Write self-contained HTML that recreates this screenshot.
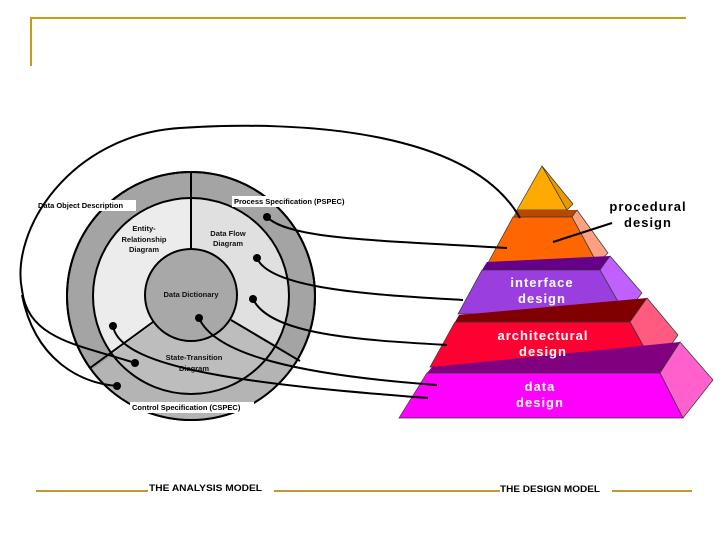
<!DOCTYPE html>
<html><head><meta charset="utf-8"><style>
html,body{margin:0;padding:0;background:#fff;}
svg{display:block;font-family:"Liberation Sans",Arial,sans-serif;}
</style></head><body>
<svg width="728" height="546" viewBox="0 0 728 546" xmlns="http://www.w3.org/2000/svg">
<!-- header -->
<line x1="30" y1="18" x2="686" y2="18" stroke="#c89b14" stroke-width="2"/>
<line x1="31" y1="17" x2="31" y2="66" stroke="#c89b14" stroke-width="2"/>

<!-- analysis model circle -->
<g stroke="#000" stroke-width="2">
  <circle cx="191" cy="296" r="124" fill="#a4a4a4"/>
  <!-- bottom sector of outer ring slightly lighter -->
  <path d="M191,296 L298,358 A124,124 0 0 1 92,370 Z" fill="#b4b4b4" stroke="none"/>
  <circle cx="191" cy="296" r="124" fill="none"/>
  <!-- middle sectors -->
  <path d="M191,296 L191,198 A98,98 0 0 0 112,354 Z" fill="#ececec" stroke="none"/>
  <path d="M191,296 L191,198 A98,98 0 0 1 276,345 Z" fill="#e0e0e0" stroke="none"/>
  <path d="M191,296 L276,345 A98,98 0 0 1 112,354 Z" fill="#bdbdbd" stroke="none"/>
  <circle cx="191" cy="296" r="98" fill="none"/>
  <line x1="191" y1="172" x2="191" y2="250"/>
  <line x1="153" y1="322" x2="90" y2="368"/>
  <line x1="231" y1="320" x2="300" y2="361"/>
  <circle cx="191" cy="295" r="46" fill="#a8a8a8"/>
</g>
<g font-size="7.5" font-weight="bold" text-anchor="middle" fill="#111">
  <text x="144" y="231">Entity-</text>
  <text x="144" y="242">Relationship</text>
  <text x="144" y="252">Diagram</text>
  <text x="228" y="236">Data Flow</text>
  <text x="228" y="246">Diagram</text>
  <text x="191" y="297">Data Dictionary</text>
  <text x="194" y="360">State-Transition</text>
  <text x="194" y="371">Diagram</text>
</g>
<rect x="36" y="200" width="100" height="11" fill="#fff"/>
<text x="38" y="208" font-size="7.5" font-weight="bold">Data Object Description</text>
<rect x="232" y="196" width="128" height="11" fill="#fff"/>
<text x="234" y="204" font-size="7.5" font-weight="bold">Process Specification (PSPEC)</text>
<rect x="130" y="402" width="124" height="11" fill="#fff"/>
<text x="132" y="410" font-size="7.5" font-weight="bold">Control Specification (CSPEC)</text>

<!-- pyramid -->
<!-- top cap -->
<polygon points="542,166 567,210 517,210" fill="#ffaa00" stroke="#333" stroke-width="0.7"/>
<polygon points="542,166 573,204 567,210" fill="#e89a00" stroke="#333" stroke-width="0.7"/>
<!-- procedural -->
<polygon points="517,210 577,210 572,217 513,217" fill="#b84800"/>
<polygon points="577,210 608,253 597,263 572,217" fill="#ffa080" stroke="#333" stroke-width="0.7"/>
<polygon points="513,217 572,217 597,263 488,263" fill="#ff6600" stroke="#333" stroke-width="0.7"/>
<!-- interface -->
<polygon points="487,262 610,256 600,270 482,270" fill="#660088"/>
<polygon points="600,270 610,256 642,293 625,314" fill="#c060ff" stroke="#333" stroke-width="0.7"/>
<polygon points="482,270 600,270 625,314 458,314" fill="#9a3ee0" stroke="#333" stroke-width="0.7"/>
<!-- architectural -->
<polygon points="459,315 647,298 630,322 455,322" fill="#800000"/>
<polygon points="630,322 647,298 678,335 655,367" fill="#ff5a80" stroke="#333" stroke-width="0.7"/>
<polygon points="455,322 630,322 655,367 430,367" fill="#ff0033" stroke="#333" stroke-width="0.7"/>
<!-- data -->
<polygon points="432,367 680,342 660,373 427,373" fill="#800080"/>
<polygon points="660,373 680,342 713,380 683,418" fill="#ff60cc" stroke="#333" stroke-width="0.7"/>
<polygon points="427,373 660,373 683,418 399,418" fill="#ff00ff" stroke="#333" stroke-width="0.7"/>

<g font-size="13" font-weight="bold" fill="#fff" text-anchor="middle" letter-spacing="1">
  <text x="542" y="287">interface</text>
  <text x="542" y="303">design</text>
  <text x="543" y="340">architectural</text>
  <text x="543" y="356">design</text>
  <text x="540" y="391">data</text>
  <text x="540" y="407">design</text>
</g>
<g font-size="13" font-weight="bold" fill="#000" text-anchor="middle" letter-spacing="1">
  <text x="648" y="211">procedural</text>
  <text x="648" y="227">design</text>
</g>

<!-- connectors -->
<g fill="none" stroke="#000" stroke-width="2">
  <path d="M553,242 L612,223"/>
  <path d="M267,217 C290,240 380,240 507,248"/>
  <path d="M257,258 C270,290 380,295 463,300"/>
  <path d="M253,299 C270,335 360,340 447,345"/>
  <path d="M199,318 C215,355 300,375 437,385"/>
  <path d="M113,326 C120,370 260,385 428,398"/>
  <path d="M520,218 C470,130 300,120 180,128 C70,135 10,230 22,290 C28,340 80,345 135,363"/>
  <path d="M22,295 C35,360 80,383 117,386"/>
</g>
<g fill="#000">
  <circle cx="267" cy="217" r="4"/>
  <circle cx="257" cy="258" r="4"/>
  <circle cx="253" cy="299" r="4"/>
  <circle cx="199" cy="318" r="4"/>
  <circle cx="113" cy="326" r="4"/>
  <circle cx="135" cy="363" r="4"/>
  <circle cx="117" cy="386" r="4"/>
</g>

<!-- footer -->
<g stroke="#c09a30" stroke-width="2">
  <line x1="36" y1="491" x2="148" y2="491"/>
  <line x1="274" y1="491" x2="500" y2="491"/>
  <line x1="612" y1="491" x2="692" y2="491"/>
</g>
<g font-size="9.5" font-weight="bold" fill="#000">
  <text x="149" y="491" textLength="113" lengthAdjust="spacingAndGlyphs">THE ANALYSIS MODEL</text>
  <text x="500" y="492" textLength="100" lengthAdjust="spacingAndGlyphs">THE DESIGN MODEL</text>
</g>
</svg>
</body></html>
